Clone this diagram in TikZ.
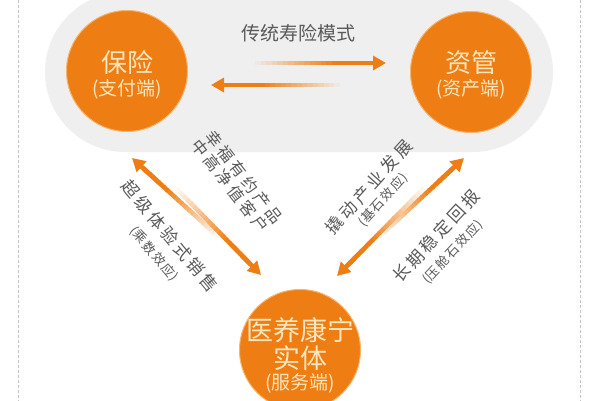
\documentclass[tikz,border=0pt]{standalone}
\usepackage{fontspec}
\setmainfont{Noto Sans CJK SC}
\usetikzlibrary{calc,arrows.meta}
\definecolor{org}{HTML}{EE7E14}
\definecolor{ring}{HTML}{F6B56E}
\definecolor{cream}{HTML}{FCE6BD}
\definecolor{pillgrey}{HTML}{EFEFEF}
\definecolor{txtgrey}{HTML}{595959}
\definecolor{dashgrey}{HTML}{C4C4C4}
\newcommand\ka{\kern3.4pt}
\newcommand\kb{\kern1.6pt}
\newcommand\gradarrow[3]{%
  \foreach \k in {0,...,21}{%
    \pgfmathsetmacro\gaa{\k*0.04}%
    \pgfmathsetmacro\gab{min(0.88,\k*0.04+0.05)}%
    \pgfmathtruncatemacro\gac{min(100,\k*0.04*100/0.6)}%
    \draw[line width=4.5pt, draw=org!\gac!#3] ($(#1)!\gaa!(#2)$) -- ($(#1)!\gab!(#2)$);
  }%
  \draw[line width=4.5pt, org, -{Triangle[length=13pt,width=14pt]}] ($(#1)!0.7!(#2)$) -- (#2);
}
\begin{document}
\begin{tikzpicture}[x=1pt,y=-1pt,
  hub/.style={circle, fill=org, draw=ring, line width=1pt, minimum size=121pt, inner sep=0pt},
  hubtitle/.style={inner sep=0pt, text=cream, font=\fontsize{26}{26}\selectfont},
  hubsub/.style={inner sep=0pt, text=cream, font=\fontsize{19}{19}\selectfont},
  toplbl/.style={inner sep=0pt, text=txtgrey, font=\fontsize{19}{19}\selectfont},
  diaglbl/.style={inner sep=0pt, text=txtgrey, font=\fontsize{17}{17}\selectfont},
  diagsub/.style={inner sep=0pt, text=txtgrey, font=\fontsize{13}{13}\selectfont}]
\useasboundingbox (0,0) rectangle (600,400);
\clip (0,0) rectangle (600,400);
\fill[white] (0,0) rectangle (600,400);
% frame
\draw[dashgrey, line width=0.8pt, dash pattern=on 3pt off 2pt] (18,-5) -- (18,405);
\draw[dashgrey, line width=0.8pt, dash pattern=on 3pt off 2pt] (580,-5) -- (580,405);
% pill
\fill[pillgrey, rounded corners=80pt] (45,-8) rectangle (553,152);
% hubs
\node[hub] (ins) at (127,71) {};
\node[hub] (am) at (471,72) {};
\node[hub] (med) at (300,350) {};
\node[hubtitle] (insT) at (127,63) {保险};
\node[hubsub] (insS) at (127,89) {(支付端)};
\node[hubtitle] (amT) at (471,63) {资管};
\node[hubsub] (amS) at (471,89) {(资产端)};
\node[hubtitle, font=\fontsize{27}{27}\selectfont] (medT1) at (300,330) {医养康宁};
\node[hubtitle, font=\fontsize{27}{27}\selectfont] (medT2) at (300,358) {实体};
\node[hubsub] (medS) at (300,383) {(服务端)};
% top
\node[toplbl] (mode) at (298,33) {传统寿险模式};
\coordinate (t1a) at (250,63);
\coordinate (t1b) at (386,63);
\coordinate (t2a) at (345,85);
\coordinate (t2b) at (211,85);
\gradarrow{t1a}{t1b}{pillgrey}
\gradarrow{t2a}{t2b}{pillgrey}
% left diagonal
\coordinate (l1a) at (222,240);
\coordinate (l1b) at (132,158);
\coordinate (l2a) at (173,185);
\coordinate (l2b) at (261,275);
\gradarrow{l1a}{l1b}{white}
\gradarrow{l2a}{l2b}{white}
% right diagonal
\coordinate (r1a) at (376,240);
\coordinate (r1b) at (464,158);
\coordinate (r2a) at (427,185);
\coordinate (r2b) at (337,276);
\gradarrow{r1a}{r1b}{white}
\gradarrow{r2a}{r2b}{white}
% labels
\node[diaglbl, font=\fontsize{16}{16}\selectfont, rotate=-52] (lu1) at (244,177) {幸\ka 福\ka 有\ka 约\ka 产\ka 品};
\node[diaglbl, font=\fontsize{16}{16}\selectfont, rotate=-52] (lu2) at (230,186) {中\ka 高\ka 净\ka 值\ka 客\ka 户};
\node[diaglbl, rotate=-50] (ll1) at (170,236) {超\ka 级\ka 体\ka 验\ka 式\ka 销\ka 售};
\node[diagsub, rotate=-50] (ll2) at (154,254) {(乘\kb 数\kb 效\kb 应)};
\node[diaglbl, rotate=48] (ru1) at (369,187) {撬\ka 动\ka 产\ka 业\ka 发\ka 展};
\node[diagsub, rotate=48] (ru2) at (383,200) {(基\kb 石\kb 效\kb 应)};
\node[diaglbl, rotate=47] (rl1) at (436,236) {长\ka 期\ka 稳\ka 定\ka 回\ka 报};
\node[diagsub, rotate=47] (rl2) at (453,252) {(压\kb 舱\kb 石\kb 效\kb 应)};
\end{tikzpicture}
\end{document}
